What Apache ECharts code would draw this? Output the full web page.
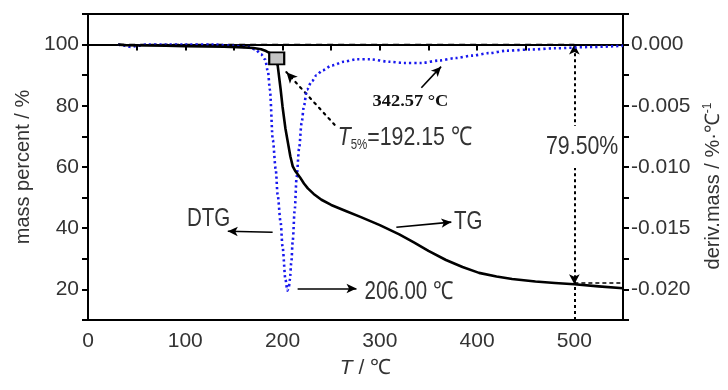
<!DOCTYPE html>
<html>
<head>
<meta charset="utf-8">
<script src="https://cdn.jsdelivr.net/npm/echarts@6/dist/echarts.min.js"></script>
<style>html,body{margin:0;padding:0;background:#fff}#c{width:728px;height:390px}</style>
</head>
<body>
<div id="c"></div>
<script>
// ---- data ----
const T_TG = [31, 40, 60, 80, 100, 120, 140, 160, 170, 178, 183, 187, 190, 192.15, 195, 198, 200, 203, 205, 208, 210.5, 213, 215, 218, 222, 226, 232, 240, 250, 265, 280, 300, 320, 335, 350, 368, 385, 402, 420, 436, 460, 480, 500, 525, 550];
const MASS = [100, 99.8, 99.7, 99.6, 99.5, 99.4, 99.3, 99.1, 98.9, 98.5, 97.9, 97.2, 96.2, 95.0, 93.2, 85.5, 79.7, 72.5, 68.9, 63.5, 60.2, 58.7, 57.9, 56.6, 54.6, 53.0, 51.2, 49.3, 47.6, 45.6, 43.7, 41.0, 38.0, 35.4, 32.6, 29.6, 27.3, 25.4, 24.2, 23.4, 22.6, 22.1, 21.7, 21.0, 20.4];
const T_DTG = [31, 38, 44, 50, 60, 80, 100, 130, 150, 165, 172, 178, 182, 185, 187, 190, 193, 195, 198, 200, 203, 205, 206.5, 207.5, 209, 210.5, 212.5, 214.5, 217, 219.6, 222, 225, 230, 235, 241, 251, 263, 276, 290, 310, 325, 342.57, 361, 378, 395, 412, 430, 455, 481, 515, 550];
const DERIV = [0, -0.0001, -0.0002, -0.0001, 0, 0, 0, 0, -0.0001, -0.0002, -0.0004, -0.0008, -0.0012, -0.0022, -0.0037, -0.0078, -0.0102, -0.0123, -0.0145, -0.0165, -0.0192, -0.0201, -0.0198, -0.0192, -0.0178, -0.0160, -0.0135, -0.0108, -0.0085, -0.0064, -0.0050, -0.0037, -0.0030, -0.0025, -0.0021, -0.0017, -0.0014, -0.0012, -0.0012, -0.0014, -0.0015, -0.0015, -0.0013, -0.0011, -0.0009, -0.0007, -0.0005, -0.0004, -0.0003, -0.0002, -0.0001];
const X_TICKS = [0, 100, 200, 300, 400, 500];
const LEFT_TICKS = [20, 40, 60, 80, 100];
const RIGHT_TICKS = ['0.000', '-0.005', '-0.010', '-0.015', '-0.020'];
const T5 = 192.15, PEAK1 = 206.00, PEAK2 = 342.57, LOSS = 79.50, END_T = 500, END_MASS = 21.7;

const FONT = "'Liberation Sans',Arial,sans-serif";
const TXT = '#333';
const NARROW = 0.82;

const chart = echarts.init(document.getElementById('c'), null, {renderer: 'canvas'});
const tg = T_TG.map((t, i) => [t, MASS[i]]);
const dtg = T_DTG.map((t, i) => [t, DERIV[i]]);

const axisCommon = {
  axisLine: {show: true, lineStyle: {color: '#000', width: 2}},
  axisTick: {show: true, inside: false, length: 6, lineStyle: {color: '#000', width: 2}},
  splitLine: {show: false},
  axisLabel: {color: TXT, fontSize: 21, fontFamily: FONT}
};

chart.setOption({
  animation: false,
  textStyle: {fontFamily: FONT},
  grid: {left: 88, right: 105, top: 14, bottom: 70, show: true, borderColor: '#000', borderWidth: 2,
    containLabel: false, outerBoundsMode: 'none'},
  xAxis: Object.assign({}, axisCommon, {
    type: 'value', min: 0, max: 550, interval: 50,
    axisLabel: Object.assign({}, axisCommon.axisLabel, {margin: 11,
      formatter: v => X_TICKS.indexOf(v) >= 0 ? String(v) : ''}),
    name: '{i|T} / ℃', nameLocation: 'middle', nameGap: 38,
    nameTextStyle: {color: TXT, fontSize: 21, fontFamily: FONT, padding: [0, 0, 0, 20],
      rich: {i: {fontStyle: 'italic', fontSize: 21, fontFamily: FONT, color: TXT}}}
  }),
  yAxis: [
    Object.assign({}, axisCommon, {
      type: 'value', min: 10, max: 110, interval: 10, position: 'left',
      axisLabel: Object.assign({}, axisCommon.axisLabel, {margin: 9,
        formatter: v => LEFT_TICKS.indexOf(v) >= 0 ? String(v) : ''}),
      name: 'mass percent / %', nameLocation: 'middle', nameRotate: 90, nameGap: 52,
      nameTextStyle: {color: TXT, fontSize: 20, fontFamily: FONT}
    }),
    Object.assign({}, axisCommon, {
      type: 'value', min: -0.0225, max: 0.0025, interval: 0.0025, position: 'right',
      axisLabel: Object.assign({}, axisCommon.axisLabel, {margin: 8,
        formatter: v => { const k = Math.round(v / 0.0025); if (k % 2 !== 0) return ''; const s = (k * 0.0025).toFixed(3); return RIGHT_TICKS.indexOf(s) >= 0 ? s : ''; }}),
      name: 'deriv.mass / %·℃{sup|-1}', nameLocation: 'middle', nameRotate: 90, nameGap: 73,
      nameTextStyle: {color: TXT, fontSize: 20, fontFamily: FONT, padding: [0, 38, 0, 0],
        rich: {sup: {fontSize: 12, fontFamily: FONT, color: TXT, padding: [0, 0, 12, 0]}}}
    })
  ],
  series: [
    {
      name: 'DTG', type: 'line', yAxisIndex: 1, data: dtg, showSymbol: false, symbol: 'none',
      smooth: 0.3, smoothMonotone: 'x', silent: true, z: 2,
      lineStyle: {color: '#1818ee', width: 2.6, type: [2.2, 3.0]}
    },
    {
      name: 'TG', type: 'line', yAxisIndex: 0, data: tg, showSymbol: false, symbol: 'none',
      smooth: false, silent: true, z: 3,
      lineStyle: {color: '#000', width: 2.6, join: 'round'},
      markLine: {
        silent: true, animation: false, label: {show: false}, z: 1,
        data: [
          [{coord: [31, 100], symbol: 'none', lineStyle: {type: [6, 5], width: 1.3, color: '#000'}}, {coord: [END_T, 100], symbol: 'none'}],
          [{coord: [END_T, END_MASS], symbol: 'arrow', symbolSize: [8, 10], lineStyle: {type: [3, 3], width: 2, color: '#000'}}, {coord: [END_T, 100], symbol: 'arrow', symbolSize: [8, 10]}],
          [{coord: [END_T, 10], symbol: 'none', lineStyle: {type: [3, 3], width: 2, color: '#000'}}, {coord: [END_T, END_MASS], symbol: 'none'}],
          [{coord: [END_T, 22.1], symbol: 'none', lineStyle: {type: [4, 3], width: 1.5, color: '#000'}}, {coord: [550, 22.1], symbol: 'none'}],
          [{coord: [253.5, 73.8], symbol: 'none', lineStyle: {type: [2, 5], width: 2.2, color: '#000', cap: 'round'}}, {coord: [204, 91], symbol: 'arrow', symbolSize: [8, 11]}],
          [{coord: [342.7, 85.9], symbol: 'none', lineStyle: {type: 'solid', width: 1.6, color: '#000'}}, {coord: [363, 92.8], symbol: 'arrow', symbolSize: [7, 10]}],
          [{coord: [189.8, 38.7], symbol: 'none', lineStyle: {type: 'solid', width: 1.6, color: '#000'}}, {coord: [143.7, 39.0], symbol: 'arrow', symbolSize: [7, 10]}],
          [{coord: [317, 40.3], symbol: 'none', lineStyle: {type: 'solid', width: 1.6, color: '#000'}}, {coord: [373.5, 42.0], symbol: 'arrow', symbolSize: [7, 10]}],
          [{coord: [215.5, 20.3], symbol: 'none', lineStyle: {type: 'solid', width: 1.6, color: '#000'}}, {coord: [276, 20.3], symbol: 'arrow', symbolSize: [7, 10]}]
        ]
      },
      markPoint: {
        silent: true, animation: false,
        data: [{coord: [194, 95.5], symbol: 'rect', symbolSize: [15, 12],
          itemStyle: {color: '#c4c4c4', borderColor: '#000', borderWidth: 2}, label: {show: false}}]
      }
    }
  ]
});

// annotation labels positioned in data coordinates (narrowed to mimic the condensed face)
const P = (x, y) => chart.convertToPixel({xAxisIndex: 0, yAxisIndex: 0}, [x, y]);
const label = (x, y, text, style, sx) => {
  const p = P(x, y);
  return {type: 'text', x: p[0], y: p[1], z: 100, silent: true, scaleX: sx == null ? NARROW : sx,
    style: Object.assign({text: text, fill: TXT, font: '25px ' + FONT, align: 'center', verticalAlign: 'middle'}, style)};
};
chart.setOption({
  graphic: [
    label(124, 43, 'DTG'),
    label(391, 42, 'TG'),
    label(330, 19, PEAK1.toFixed(2) + ' ℃'),
    label(331.5, 81.3, PEAK2.toFixed(2) + ' °C', {font: 'bold 16px "Liberation Serif", "Times New Roman", serif', fill: '#111'}, 1.15),
    label(508, 66.5, LOSS.toFixed(2) + '%', {font: '26px ' + FONT, backgroundColor: '#fff', padding: [8, 2, 8, 2]}),
    label(325.8, 69.5, '{i|T}{sub|5%}=' + T5.toFixed(2) + ' ℃', {
      rich: {
        i: {fontStyle: 'italic', fontSize: 26, fontFamily: FONT, fill: TXT},
        sub: {fontSize: 14, fontFamily: FONT, fill: TXT, padding: [14, 0, 0, 0]}
      }, font: '26px ' + FONT})
  ]
});
</script>
</body>
</html>
